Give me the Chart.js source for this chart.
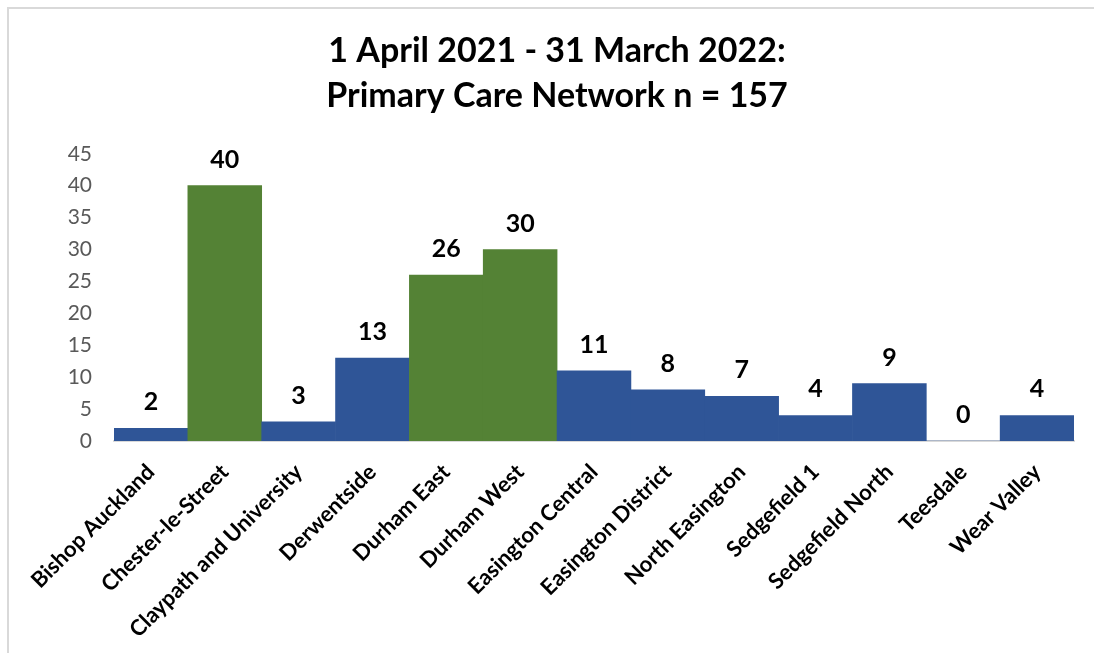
<!DOCTYPE html>
<html>
<head>
<meta charset="utf-8">
<script src="https://cdn.jsdelivr.net/npm/chart.js@4"></script>
<style>
  html, body { margin: 0; padding: 0; background: #fff; }
  #wrap { position: relative; width: 1094px; height: 653px; }
</style>
</head>
<body>
<div id="wrap"><canvas id="pcnChart"></canvas></div>
<script>
// Primary Care Network counts, 1 April 2021 - 31 March 2022
const networks = [
  'Bishop Auckland', 'Chester-le-Street', 'Claypath and University', 'Derwentside',
  'Durham East', 'Durham West', 'Easington Central', 'Easington District',
  'North Easington', 'Sedgefield 1', 'Sedgefield North', 'Teesdale', 'Wear Valley'
];
const counts = [2, 40, 3, 13, 26, 30, 11, 8, 7, 4, 9, 0, 4];
const highlighted = ['Chester-le-Street', 'Durham East', 'Durham West'];
const yTicks = [0, 5, 10, 15, 20, 25, 30, 35, 40, 45];
const titleLines = ['1 April 2021 - 31 March 2022:', 'Primary Care Network n = 157'];

const BLUE = '#2f5597';
const GREEN = '#548235';
const FONT = 'Lato, "Open Sans", sans-serif';

// light grey frame on the top and left edges
const framePlugin = {
  id: 'frame',
  beforeDraw(chart) {
    const ctx = chart.ctx;
    ctx.save();
    ctx.fillStyle = '#d9d9d9';
    ctx.fillRect(7, 7, chart.width - 7, 2);
    ctx.fillRect(7, 7, 2, chart.height - 7);
    ctx.restore();
  }
};

// value labels above each bar
const valueLabels = {
  id: 'valueLabels',
  afterDatasetsDraw(chart) {
    const ctx = chart.ctx;
    const meta = chart.getDatasetMeta(0);
    ctx.save();
    ctx.font = 'bold 25px ' + FONT;
    ctx.fillStyle = '#000';
    ctx.textAlign = 'center';
    ctx.textBaseline = 'alphabetic';
    meta.data.forEach((bar, i) => {
      ctx.fillText(String(counts[i]), bar.x, bar.y - 18);
    });
    ctx.restore();
  }
};

new Chart(document.getElementById('pcnChart'), {
  type: 'bar',
  data: {
    labels: networks,
    datasets: [{
      data: counts,
      backgroundColor: networks.map(n => highlighted.includes(n) ? GREEN : BLUE),
      barPercentage: 1,
      categoryPercentage: 1,
      borderWidth: 0
    }]
  },
  options: {
    responsive: true,
    maintainAspectRatio: false,
    animation: false,
    layout: { padding: { left: 40, right: 20, top: 10, bottom: 0 } },
    plugins: {
      legend: { display: false },
      tooltip: { enabled: false },
      title: {
        display: true,
        text: titleLines,
        color: '#000',
        font: { family: FONT, size: 34, weight: 'bold', lineHeight: 1.32 },
        padding: { top: 19, bottom: 35 }
      }
    },
    scales: {
      x: {
        grid: { display: false, drawTicks: false },
        border: { display: true, color: '#d9d9d9', width: 2 },
        ticks: {
          color: '#000',
          font: { family: FONT, size: 22, weight: 'bold' },
          minRotation: 45,
          maxRotation: 45,
          autoSkip: false,
          padding: 18
        },
        afterFit(scale) { scale.height = 212; }
      },
      y: {
        min: 0,
        max: 45,
        grid: { display: false, drawTicks: false },
        border: { display: false },
        afterBuildTicks(scale) { scale.ticks = yTicks.map(v => ({ value: v })); },
        ticks: {
          color: '#595959',
          font: { family: FONT, size: 21 },
          padding: 22
        },
        afterFit(scale) { scale.width = 74; }
      }
    }
  },
  plugins: [framePlugin, valueLabels]
});
</script>
</body>
</html>
